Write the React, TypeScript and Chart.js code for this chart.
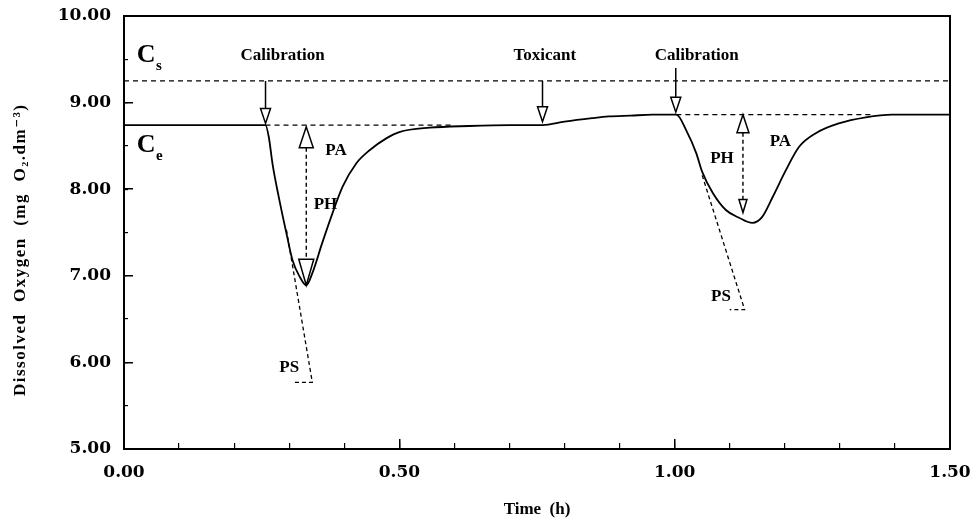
import React, { useEffect, useRef } from 'react';
import { Chart, registerables } from 'chart.js';
Chart.register(...registerables);

// ---- data ----
const timeH = [0, 0.1, 0.2, 0.257, 0.263, 0.270, 0.282, 0.295, 0.306, 0.319, 0.331, 0.342, 0.360, 0.379, 0.397, 0.422, 0.446, 0.477, 0.500, 0.555, 0.627, 0.700, 0.760, 0.800, 0.850, 0.880, 0.920, 0.960, 1.003, 1.021, 1.039, 1.050, 1.069, 1.093, 1.117, 1.141, 1.159, 1.178, 1.202, 1.226, 1.257, 1.298, 1.347, 1.395, 1.450, 1.500];
const doMg = [8.74, 8.74, 8.74, 8.74, 8.60, 8.28, 7.88, 7.49, 7.18, 6.99, 6.89, 7.03, 7.38, 7.73, 8.03, 8.30, 8.45, 8.59, 8.66, 8.71, 8.73, 8.74, 8.74, 8.78, 8.82, 8.84, 8.85, 8.86, 8.86, 8.68, 8.42, 8.20, 7.96, 7.76, 7.67, 7.61, 7.68, 7.91, 8.22, 8.49, 8.65, 8.76, 8.83, 8.86, 8.86, 8.86];

const csLevel = 9.25;
const csSpan = [0, 1.5];
const ceSeg1 = { x: [0.257, 0.60], y: 8.74 };
const ceSeg2 = { x: [1.003, 1.36], y: 8.86 };
// PS tangents: [x start, x end, x back], [y start, y end, y back]
const ps1X = [0.295, 0.342, 0.309];
const ps1Y = [7.53, 5.77, 5.77];
const ps2X = [1.050, 1.127, 1.100];
const ps2Y = [8.16, 6.61, 6.61];

// event arrows
const eventX = [0.257, 0.760, 1.002];
const eventFrom = [9.25, 9.25, 9.40];
const eventTo = [8.76, 8.78, 8.89];
const eventText = ['Calibration', 'Toxicant', 'Calibration'];
const eventLabelX = [0.288, 0.764, 1.040];
const eventLabelY = 9.54;

// PH double arrows
const phX = [0.331, 1.124];
const phTop = [8.72, 8.86];
const phBottom = [6.89, 7.73];

// peak labels
const peakText = ['PA', 'PH', 'PS', 'PH', 'PA', 'PS'];
const peakX = [0.385, 0.366, 0.300, 1.086, 1.192, 1.084];
const peakY = [8.45, 7.82, 5.94, 8.35, 8.55, 6.76];

const xTicks = ['0.00', '0.50', '1.00', '1.50'];
const yTitle = 'Dissolved  Oxygen  (mg  O\u2082.dm\u207B\u00B3)';
const yTitleCenter = 7.3;
const xTitle = 'Time  (h)';

const SERIF = '"Liberation Serif", "DejaVu Serif", serif';
const TICKFONT = '"DejaVu Serif", serif';

function head(ctx: CanvasRenderingContext2D, x: number, tipY: number, dir: number, w: number, h: number) {
  ctx.save();
  ctx.setLineDash([]);
  ctx.beginPath();
  ctx.moveTo(x, tipY);
  ctx.lineTo(x - w / 2, tipY - dir * h);
  ctx.lineTo(x + w / 2, tipY - dir * h);
  ctx.closePath();
  ctx.fillStyle = '#fff';
  ctx.fill();
  ctx.lineWidth = 1.5;
  ctx.strokeStyle = '#000';
  ctx.stroke();
  ctx.restore();
}

const annot = {
  id: 'annot',
  afterDatasetsDraw(chart: any) {
    const { ctx } = chart;
    const xs = chart.scales.x, ys = chart.scales.y;
    const px = (v: number) => xs.getPixelForValue(v);
    const py = (v: number) => ys.getPixelForValue(v);
    ctx.save();
    ctx.strokeStyle = '#000';
    ctx.fillStyle = '#000';
    // event arrows
    eventX.forEach((t, i) => {
      const X = px(t), y0 = py(eventFrom[i]), y1 = py(eventTo[i]);
      ctx.beginPath();
      ctx.lineWidth = 1.5;
      ctx.moveTo(X, y0);
      ctx.lineTo(X, y1 - 14);
      ctx.stroke();
      head(ctx, X, y1, 1, 10, 15);
      ctx.font = 'bold 17px ' + SERIF;
      ctx.textAlign = 'center';
      ctx.textBaseline = 'middle';
      ctx.fillStyle = '#000';
      ctx.fillText(eventText[i], px(eventLabelX[i]), py(eventLabelY));
    });
    // PH double arrows
    const sizes = [[14, 21, 15, 26], [12, 18, 8, 13]];
    phX.forEach((t, i) => {
      const X = px(t), yt = py(phTop[i]), yb = py(phBottom[i]);
      const [tw, th, bw, bh] = sizes[i];
      ctx.beginPath();
      ctx.lineWidth = 1.4;
      ctx.setLineDash([4, 3]);
      ctx.moveTo(X, yt + th);
      ctx.lineTo(X, yb - bh);
      ctx.stroke();
      ctx.setLineDash([]);
      head(ctx, X, yt, -1, tw, th);
      head(ctx, X, yb, 1, bw, bh);
    });
    // peak labels
    ctx.font = 'bold 17px ' + SERIF;
    ctx.textAlign = 'center';
    ctx.textBaseline = 'middle';
    peakText.forEach((s, i) => ctx.fillText(s, px(peakX[i]), py(peakY[i])));
    // Cs / Ce
    ctx.textAlign = 'left';
    ctx.textBaseline = 'alphabetic';
    ctx.font = 'bold 26px ' + SERIF;
    ctx.fillText('C', px(0.023), py(9.47));
    ctx.fillText('C', px(0.023), py(8.43));
    ctx.font = 'bold 15px ' + SERIF;
    ctx.fillText('s', px(0.058), py(9.38));
    ctx.fillText('e', px(0.058), py(8.34));
    // y axis title (letter-spaced, rotated)
    ctx.save();
    ctx.translate(21, py(yTitleCenter));
    ctx.rotate(-Math.PI / 2);
    (ctx as any).letterSpacing = '1.5px';
    ctx.font = 'bold 17px ' + SERIF;
    ctx.textAlign = 'center';
    ctx.textBaseline = 'middle';
    ctx.fillText(yTitle, 0, 0);
    ctx.restore();
    ctx.restore();
  },
};

function lineDs(points: { x: number; y: number }[], dash: number[], width = 1.3) {
  return {
    data: points,
    borderColor: '#000',
    borderWidth: width,
    borderDash: dash,
    pointRadius: 0,
    fill: false,
    tension: 0,
    xAxisID: 'x',
    yAxisID: 'y',
  };
}

export default function App() {
  const ref = useRef<HTMLCanvasElement | null>(null);
  useEffect(() => {
    if (!ref.current) return;
    const tickFont = { family: TICKFONT, weight: 'bold' as const, size: 17 };
    const titleFont = { family: SERIF, weight: 'bold' as const, size: 17 };
    const chart = new Chart(ref.current, {
      type: 'line',
      data: {
        datasets: [
          {
            data: timeH.map((t, i) => ({ x: t, y: doMg[i] })),
            borderColor: '#000',
            borderWidth: 1.8,
            pointRadius: 0,
            cubicInterpolationMode: 'monotone',
            fill: false,
            xAxisID: 'x',
            yAxisID: 'y',
          } as any,
          lineDs(csSpan.map((x) => ({ x, y: csLevel })), [5, 4]),
          lineDs(ceSeg1.x.map((x) => ({ x, y: ceSeg1.y })), [5, 4]),
          lineDs(ceSeg2.x.map((x) => ({ x, y: ceSeg2.y })), [5, 4]),
          lineDs(ps1X.map((x, i) => ({ x, y: ps1Y[i] })), [4, 3]),
          lineDs(ps2X.map((x, i) => ({ x, y: ps2Y[i] })), [4, 3]),
        ],
      },
      options: {
        animation: false,
        responsive: false,
        maintainAspectRatio: false,
        layout: { padding: { top: 16, right: 25, left: 0, bottom: 0 } },
        plugins: { legend: { display: false }, tooltip: { enabled: false } },
        scales: {
          x: {
            type: 'linear', position: 'bottom', weight: 1, min: 0, max: 1.5,
            ticks: {
              stepSize: 0.5, autoSkip: false, maxRotation: 0, padding: 23, color: '#000', font: tickFont,
              callback: (v: any) => xTicks[Math.round(Number(v) / 0.5)] ?? '',
            },
            grid: { drawOnChartArea: false, drawTicks: true, tickLength: -10, color: '#000', lineWidth: 1.5 },
            border: { display: true, color: '#000', width: 2 },
            title: { display: true, text: xTitle, color: '#000', font: titleFont, padding: { top: 0, bottom: 4 } },
            afterFit: (s: any) => { s.height = 75; s.paddingLeft = 0; s.paddingRight = 0; },
          },
          xMinor: {
            type: 'linear', position: 'bottom', weight: 0, min: 0, max: 1.5,
            ticks: { stepSize: 0.1, display: false },
            grid: { drawOnChartArea: false, drawTicks: true, tickLength: -6, color: '#000', lineWidth: 1.2 },
            border: { display: false },
            afterFit: (s: any) => { s.height = 0; s.paddingLeft = 0; s.paddingRight = 0; },
          },
          xTop: {
            type: 'linear', position: 'top', min: 0, max: 1.5,
            ticks: { display: false },
            grid: { drawOnChartArea: false, drawTicks: false },
            border: { display: true, color: '#000', width: 2 },
            afterFit: (s: any) => { s.height = 0; s.paddingLeft = 0; s.paddingRight = 0; },
          },
          y: {
            type: 'linear', position: 'left', weight: 1, min: 5, max: 10,
            ticks: {
              stepSize: 1, padding: 22, color: '#000', font: tickFont,
              callback: (v: any) => Number(v).toFixed(2),
            },
            grid: { drawOnChartArea: false, drawTicks: true, tickLength: -9, color: '#000', lineWidth: 1.5 },
            border: { display: true, color: '#000', width: 2 },
            title: { display: false },
            afterFit: (s: any) => { s.width = 124; s.paddingTop = 0; s.paddingBottom = 0; },
          },
          yMinor: {
            type: 'linear', position: 'left', weight: 0, min: 5, max: 10,
            ticks: { stepSize: 0.5, display: false },
            grid: { drawOnChartArea: false, drawTicks: true, tickLength: -4, color: '#000', lineWidth: 1.2 },
            border: { display: false },
            afterFit: (s: any) => { s.width = 0; s.paddingTop = 0; s.paddingBottom = 0; },
          },
          yRight: {
            type: 'linear', position: 'right', min: 5, max: 10,
            ticks: { display: false },
            grid: { drawOnChartArea: false, drawTicks: false },
            border: { display: true, color: '#000', width: 2 },
            afterFit: (s: any) => { s.width = 0; s.paddingTop = 0; s.paddingBottom = 0; },
          },
        },
      } as any,
      plugins: [annot],
    });
    return () => chart.destroy();
  }, []);
  return (
    <div style={{ position: 'fixed', left: 0, top: 0, width: 975, height: 524, background: '#fff' }}>
      <canvas ref={ref} width={975} height={524} style={{ display: 'block', width: 975, height: 524 }} />
    </div>
  );
}
